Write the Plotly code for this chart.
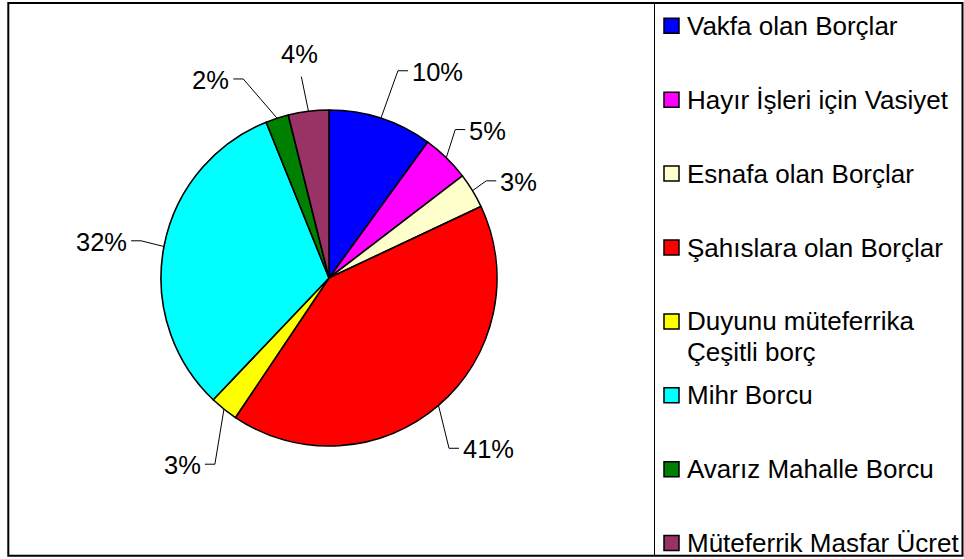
import math
import plotly.graph_objects as go

# ---------------- data ----------------
categories = [
    "Vakfa olan Borçlar",
    "Hayır İşleri için Vasiyet",
    "Esnafa olan Borçlar",
    "Şahıslara olan Borçlar",
    "Duyunu müteferrika<br>Çeşitli borç",
    "Mihr Borcu",
    "Avarız Mahalle Borcu",
    "Müteferrik Masfar Ücret",
]
values = [10.0, 4.6, 3.4, 41.4, 2.7, 31.8, 2.2, 3.9]
colors = ["#0000FF", "#FF00FF", "#FFFFCC", "#FF0000",
          "#FFFF00", "#00FFFF", "#008000", "#993366"]

# ---------------- layout settings ----------------
W, H = 964, 559
CX, CY, R = 329, 278, 168          # pie centre / radius in pixels
FONT = "Liberation Sans, Arial, sans-serif"
FS_LAB = 25.5
FS_LEG = 26
# label placement tweaks (Excel-like best fit)
label_angle_nudge = [0.4, -3.9, -0.4, 5.5, -7.2, 0.4, -5.3, -0.8]
label_radius = [1.30, 1.16, 1.10, 1.24, 1.30, 1.14, 1.29, 1.21]


def px(x):
    return x / W


def py(y):
    return 1 - y / H


fig = go.Figure()
fig.add_trace(go.Pie(
    labels=[c.replace("<br>", " ") for c in categories],
    values=values,
    sort=False,
    direction="clockwise",
    rotation=0,
    marker=dict(colors=colors, line=dict(color="black", width=1.6)),
    textinfo="none",
    showlegend=False,
    domain=dict(x=[px(CX - R), px(CX + R)], y=[py(CY + R), py(CY - R)]),
))

shapes = []
annotations = []

# ---- percentage labels with leader lines ----
total = sum(values)
cum = 0.0
for i, v in enumerate(values):
    a0 = cum / total * 360
    cum += v
    a1 = cum / total * 360
    mid = math.radians((a0 + a1) / 2)
    p0 = (CX + R * math.sin(mid), CY - R * math.cos(mid))
    ba = math.radians((a0 + a1) / 2 + label_angle_nudge[i])
    br = R * label_radius[i]
    b = (CX + br * math.sin(ba), CY - br * math.cos(ba))
    pct = f"{round(v / total * 100)}%"
    s = math.sin(ba)
    if abs(s) < 0.2:
        path = f"M {px(p0[0])} {py(p0[1])} L {px(b[0])} {py(b[1])}"
        annotations.append(dict(x=px(b[0] - 2), y=py(b[1] - 7), xref="paper", yref="paper",
                                text=pct, showarrow=False, xanchor="center", yanchor="bottom",
                                font=dict(family=FONT, size=FS_LAB, color="black")))
    else:
        side = 1 if s > 0 else -1
        t = (b[0] + side * 10, b[1])
        path = (f"M {px(p0[0])} {py(p0[1])} L {px(b[0])} {py(b[1])} "
                f"L {px(t[0])} {py(t[1])}")
        annotations.append(dict(x=px(t[0] + side * 2), y=py(b[1] + 1), xref="paper", yref="paper",
                                text=pct, showarrow=False,
                                xanchor="left" if side > 0 else "right", yanchor="middle",
                                font=dict(family=FONT, size=FS_LAB, color="black")))
    shapes.append(dict(type="path", path=path, xref="paper", yref="paper",
                       line=dict(color="black", width=1)))

# ---- manual legend ----
LEG_X0 = 654.5
LEG_TOP = 25.8
LEG_STEP = 73.9
SQ = 15
LINE_H = 30.5
for i, (c, col) in enumerate(zip(categories, colors)):
    yc = LEG_TOP + i * LEG_STEP
    shapes.append(dict(type="rect", xref="paper", yref="paper",
                       x0=px(664), x1=px(664 + SQ), y0=py(yc - SQ / 2), y1=py(yc + SQ / 2),
                       fillcolor=col, line=dict(color="black", width=1.5)))
    for k, part in enumerate(c.split("<br>")):
        annotations.append(dict(x=px(685), y=py(yc + k * LINE_H), xref="paper", yref="paper",
                                text=part, showarrow=False, xanchor="left", yanchor="middle",
                                align="left",
                                font=dict(family=FONT, size=FS_LEG, color="black")))

# legend box left edge
shapes.append(dict(type="line", xref="paper", yref="paper",
                   x0=px(LEG_X0), x1=px(LEG_X0), y0=py(3), y1=py(556),
                   line=dict(color="black", width=1)))
# outer frame
shapes.append(dict(type="rect", xref="paper", yref="paper",
                   x0=px(8.3), x1=px(962.5), y0=py(555.8), y1=py(3),
                   line=dict(color="black", width=2)))

fig.update_layout(
    width=W, height=H,
    margin=dict(l=0, r=0, t=0, b=0),
    paper_bgcolor="white", plot_bgcolor="white",
    shapes=shapes, annotations=annotations,
    font=dict(family=FONT, size=FS_LEG, color="black"),
    showlegend=False,
)

fig.write_html("out.html",
               config={"displayModeBar": False},
               post_script="document.body.style.margin='0';document.body.style.overflow='hidden';")
